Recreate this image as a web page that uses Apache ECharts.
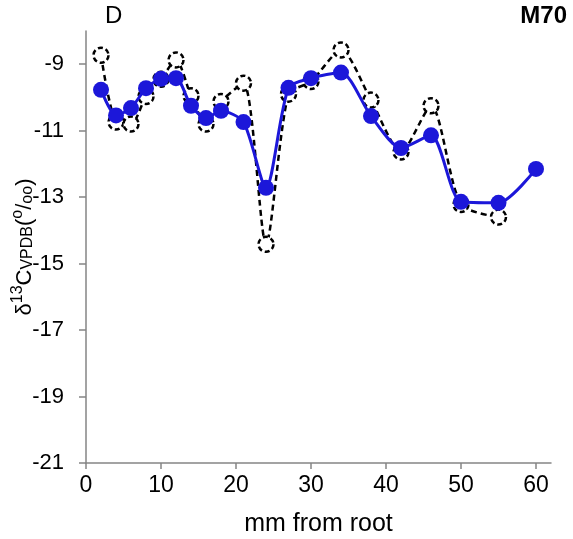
<!DOCTYPE html>
<html>
<head>
<meta charset="utf-8">
<script src="https://cdn.jsdelivr.net/npm/echarts@6/dist/echarts.min.js"></script>
<style>
  html, body { margin: 0; padding: 0; background: #fff; }
  #chart { width: 573px; height: 539px; }
</style>
</head>
<body>
<div id="chart"></div>
<script>
const distances = [2, 4, 6, 8, 10, 12, 14, 16, 18, 21, 24, 27, 30, 34, 38, 42, 46, 50, 55, 60];
const blueValues = [-9.77, -10.54, -10.32, -9.72, -9.44, -9.42, -10.25, -10.62, -10.4, -10.74,
    -12.72, -9.71, -9.42, -9.25, -10.56, -11.52, -11.14, -13.14, -13.17, -12.15];
const dashedValues = [-8.73, -10.74, -10.8, -9.97, -9.45, -8.87, -9.95, -10.8, -10.12, -9.57,
    -14.42, -9.9, -9.52, -8.57, -10.08, -11.64, -10.25, -13.22, -13.6, null];
const xTicks = [0, 10, 20, 30, 40, 50, 60];
const yTicks = [-21, -19, -17, -15, -13, -11, -9];

const pairs = (xs, ys) => xs.map((x, i) => [x, ys[i]]).filter(p => p[1] !== null);

const font = 'Arial, "Liberation Sans", sans-serif';
const axisGrey = '#858585';

const chart = echarts.init(document.getElementById('chart'));

chart.setOption({
    animation: false,
    grid: {left: 86, right: 22, top: 31, bottom: 76, outerBoundsMode: 'none', containLabel: false},
    graphic: [
        {type: 'text', left: 105, top: 4, style: {text: 'D', font: '24px ' + font, fill: '#000'}},
        {type: 'text', right: 6, top: 4, style: {text: 'M70', font: 'bold 24px ' + font, fill: '#000'}}
    ],
    xAxis: {
        type: 'value',
        min: 0,
        max: 62,
        interval: 10,
        splitLine: {show: false},
        axisLine: {lineStyle: {color: axisGrey, width: 1.5}},
        axisTick: {customValues: xTicks, length: 6, lineStyle: {color: axisGrey, width: 1.5}},
        axisLabel: {customValues: xTicks, color: '#000', fontSize: 23, fontFamily: font, margin: 11},
        name: 'mm from root',
        nameLocation: 'middle',
        nameGap: 49,
        nameMoveOverlap: false,
        nameTextStyle: {color: '#000', fontSize: 25, fontFamily: font}
    },
    yAxis: {
        type: 'value',
        min: -21,
        max: -8,
        interval: 1,
        splitLine: {show: false},
        axisLine: {show: true, lineStyle: {color: axisGrey, width: 1.5}},
        axisTick: {show: true, customValues: yTicks, length: 7, lineStyle: {color: axisGrey, width: 1.5}},
        axisLabel: {customValues: yTicks, color: '#000', fontSize: 22, fontFamily: font, margin: 22},
        name: '{t|δ}{sup|13}{t|C}{sub|VPDB}{t|(}{sup|o}{t|/}{sub|oo}{t|)}',
        nameLocation: 'middle',
        nameGap: 50,
        nameRotate: 90,
        nameMoveOverlap: false,
        nameTextStyle: {
            rich: {
                t: {fontSize: 22, fontFamily: font, color: '#000', verticalAlign: 'bottom', lineHeight: 26},
                sup: {fontSize: 16, fontFamily: font, color: '#000', verticalAlign: 'top', lineHeight: 26},
                sub: {fontSize: 16, fontFamily: font, color: '#000', verticalAlign: 'bottom', lineHeight: 20}
            }
        }
    },
    series: [
        {
            type: 'line',
            data: pairs(distances, dashedValues),
            smooth: 0.25,
            symbol: 'circle',
            symbolSize: 15,
            lineStyle: {color: '#000', width: 2.5, type: [6, 4]},
            itemStyle: {color: '#fff', borderColor: '#000', borderWidth: 2.5, borderType: [5, 3]},
            z: 2
        },
        {
            type: 'line',
            data: pairs(distances, blueValues),
            smooth: 0.25,
            symbol: 'circle',
            symbolSize: 16,
            lineStyle: {color: '#1c17d9', width: 3},
            itemStyle: {color: '#1c17d9', borderWidth: 0},
            z: 3
        }
    ]
});
</script>
</body>
</html>
